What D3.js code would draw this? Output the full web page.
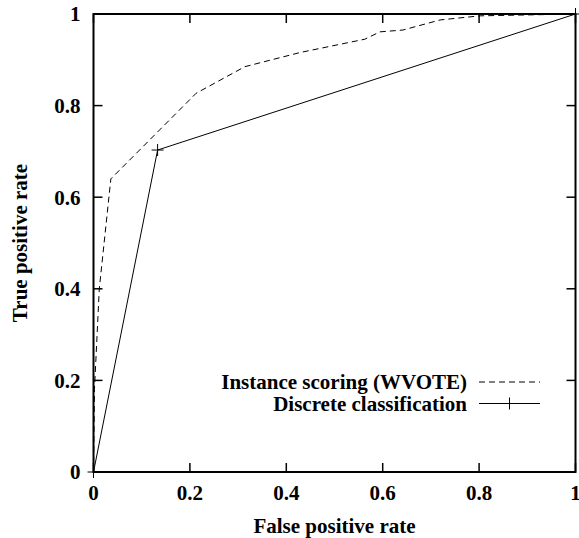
<!DOCTYPE html>
<html>
<head>
<meta charset="utf-8">
<script src="https://cdn.jsdelivr.net/npm/d3@7"></script>
<style>
  body { margin: 0; background: #fff; }
  text { font-family: "Liberation Serif", "Times New Roman", serif; font-weight: bold; fill: #000; }
</style>
</head>
<body>
<div id="chart"></div>
<script>
// ROC curves
var wvoteFpr = [0, 0.002, 0.012, 0.036, 0.213, 0.314, 0.429, 0.563, 0.594, 0.642, 0.719, 0.802, 1];
var wvoteTpr = [0, 0.18, 0.40, 0.640, 0.827, 0.885, 0.916, 0.945, 0.961, 0.965, 0.987, 0.996, 1];

var discreteFpr = [0, 0.133, 1];
var discreteTpr = [0, 0.703, 1];

var tickValues = [0, 0.2, 0.4, 0.6, 0.8, 1];
var legendLabels = ["Instance scoring (WVOTE)", "Discrete classification"];

var W = 579, H = 538;
var padL = 93.5, padT = 14, plotW = 482, plotH = 458;
var fontSize = "21px";

var svg = d3.select("#chart").append("svg")
    .attr("width", W)
    .attr("height", H);

var x = d3.scaleLinear().domain([0, 1]).range([0, plotW]);
var y = d3.scaleLinear().domain([0, 1]).range([plotH, 0]);

var g = svg.append("g").attr("transform", "translate(" + padL + "," + padT + ")");

// ticks (inside, mirrored on all four sides)
var tickLen = 9;
tickValues.forEach(function(v){
    g.append("line").attr("x1", x(v)).attr("x2", x(v)).attr("y1", plotH).attr("y2", plotH - tickLen)
        .attr("stroke", "#000").attr("stroke-width", 1.5);
    g.append("line").attr("x1", x(v)).attr("x2", x(v)).attr("y1", 0).attr("y2", tickLen)
        .attr("stroke", "#000").attr("stroke-width", 1.5);
    g.append("line").attr("y1", y(v)).attr("y2", y(v)).attr("x1", 0).attr("x2", tickLen)
        .attr("stroke", "#000").attr("stroke-width", 1.5);
    g.append("line").attr("y1", y(v)).attr("y2", y(v)).attr("x1", plotW).attr("x2", plotW - tickLen)
        .attr("stroke", "#000").attr("stroke-width", 1.5);
});

// tick labels
var fmt = function(v){ return v === 0 || v === 1 ? String(v) : d3.format(".1f")(v); };
g.selectAll(".xl").data(tickValues).enter().append("text")
    .attr("x", function(d){ return x(d); })
    .attr("y", plotH + 21)
    .attr("dy", "0.35em")
    .attr("text-anchor", "middle")
    .style("font-size", fontSize)
    .text(fmt);
g.selectAll(".yl").data(tickValues).enter().append("text")
    .attr("x", -13)
    .attr("y", function(d){ return y(d); })
    .attr("dy", "0.35em")
    .attr("text-anchor", "end")
    .style("font-size", fontSize)
    .text(fmt);

// axis titles
svg.append("text")
    .attr("x", padL + plotW / 2)
    .attr("y", 526)
    .attr("dy", "0.35em")
    .attr("text-anchor", "middle")
    .style("font-size", fontSize)
    .text("False positive rate");
svg.append("text")
    .attr("transform", "translate(20," + (padT + plotH / 2) + ") rotate(-90)")
    .attr("dy", "0.35em")
    .attr("text-anchor", "middle")
    .style("font-size", fontSize)
    .text("True positive rate");

// curves
var line = d3.line()
    .x(function(d){ return x(d[0]); })
    .y(function(d){ return y(d[1]); });

var wvote = d3.zip(wvoteFpr, wvoteTpr);
var discrete = d3.zip(discreteFpr, discreteTpr);

g.append("path").datum(wvote)
    .attr("d", line)
    .attr("fill", "none")
    .attr("stroke", "#000")
    .attr("stroke-width", 1)
    .attr("stroke-dasharray", "6,4");

g.append("path").datum(discrete)
    .attr("d", line)
    .attr("fill", "none")
    .attr("stroke", "#000")
    .attr("stroke-width", 1);

function plus(sel, cx, cy){
    sel.append("path")
        .attr("d", "M" + (cx - 6) + "," + cy + "H" + (cx + 6) + "M" + cx + "," + (cy - 6) + "V" + (cy + 6))
        .attr("stroke", "#000")
        .attr("stroke-width", 1)
        .attr("fill", "none");
}
discrete.forEach(function(d){ plus(g, x(d[0]), y(d[1])); });

// frame
g.append("rect")
    .attr("width", plotW)
    .attr("height", plotH)
    .attr("fill", "none")
    .attr("stroke", "#000")
    .attr("stroke-width", 2);

// legend
var legX = 467, legY = 382, legGap = 21.5;
legendLabels.forEach(function(lab, i){
    var ly = legY + i * legGap;
    svg.append("text")
        .attr("x", legX)
        .attr("y", ly)
        .attr("dy", "0.35em")
        .attr("text-anchor", "end")
        .style("font-size", fontSize)
        .text(lab);
    var ln = svg.append("line")
        .attr("x1", 479).attr("x2", 540)
        .attr("y1", ly).attr("y2", ly)
        .attr("stroke", "#000").attr("stroke-width", 1);
    if (i === 0) ln.attr("stroke-dasharray", "6,4");
    else plus(svg, 509.5, ly);
});
</script>
</body>
</html>
